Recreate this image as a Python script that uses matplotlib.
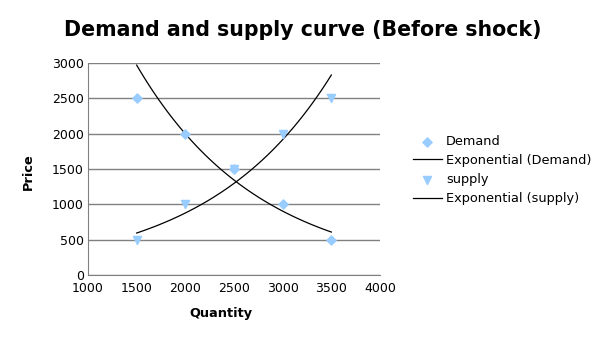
import numpy as np
import matplotlib
matplotlib.use("Agg")
import matplotlib.pyplot as plt

quantity = [1500, 2000, 2500, 3000, 3500]
demand = [2500, 2000, 1500, 1000, 500]
supply = [500, 1000, 1500, 2000, 2500]
# exponential trendline values read at the ends of the range
demand_trend_ends = [2970, 608]
supply_trend_ends = [594, 2830]
x_ticks = [1000, 1500, 2000, 2500, 3000, 3500, 4000]
y_ticks = [0, 500, 1000, 1500, 2000, 2500, 3000]

fig = plt.figure(figsize=(6.05, 3.4), dpi=100)
ax = fig.add_axes([88/605, 65/340, 292/605, 212/340])

mcol = "#99ccff"
ax.scatter(quantity, demand, marker="D", s=22, color=mcol, zorder=3, label="Demand")

def exp_curve(ends):
    x0, x1 = quantity[0], quantity[-1]
    xs = np.linspace(x0, x1, 60)
    b = np.log(ends[1] / ends[0]) / (x1 - x0)
    return xs, ends[0] * np.exp(b * (xs - x0))

xs, ys = exp_curve(demand_trend_ends)
ax.plot(xs, ys, color="black", lw=0.9, label="Exponential (Demand)")
ax.scatter(quantity, supply, marker="v", s=34, color=mcol, zorder=3, label="supply")
xs, ys = exp_curve(supply_trend_ends)
ax.plot(xs, ys, color="black", lw=0.9, label="Exponential (supply)")

ax.set_xlim(1000, 4000)
ax.set_ylim(0, 3000)
ax.set_xticks(x_ticks)
ax.set_yticks(y_ticks)
ax.tick_params(labelsize=9, length=0)
ax.tick_params(axis="y", pad=3)
ax.tick_params(axis="x", pad=5)
ax.yaxis.grid(True, color="#808080", lw=1)
ax.set_axisbelow(True)
for s in ["top", "right"]:
    ax.spines[s].set_visible(False)
for s in ["left", "bottom"]:
    ax.spines[s].set_color("#808080")

fig.text(221/605, 1 - 313/340, "Quantity", ha="center", va="center",
         fontsize=9.3, fontweight="bold")
fig.text(28/605, 1 - 172/340, "Price", ha="center", va="center",
         fontsize=9.3, fontweight="bold", rotation=90)
fig.text(0.5, 1 - 30/340, "Demand and supply curve (Before shock)", ha="center",
         va="center", fontsize=14.8, fontweight="bold")

fig.legend(loc="center left", bbox_to_anchor=(401/605, 1 - 170/340), frameon=False,
           fontsize=9.3, handlelength=2.3, labelspacing=0.47, handletextpad=0.3)

fig.savefig("out.png", dpi=100)
